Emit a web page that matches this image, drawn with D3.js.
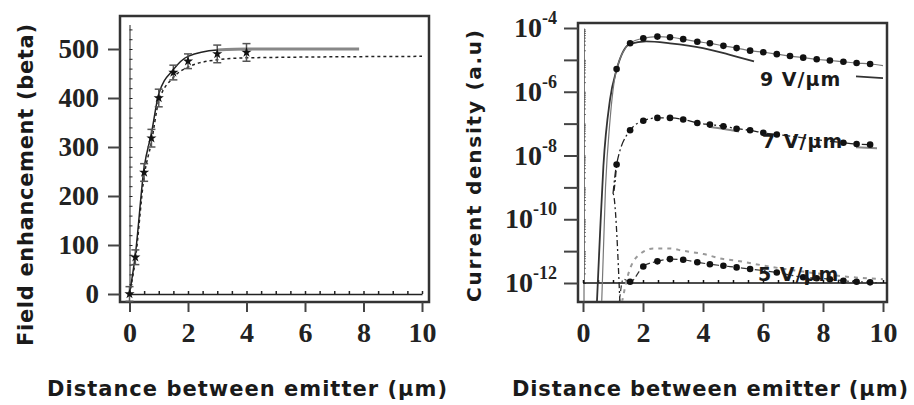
<!DOCTYPE html>
<html>
<head>
<meta charset="utf-8">
<script src="https://cdn.jsdelivr.net/npm/d3@7"></script>
<style>
  body { margin: 0; background: #fff; }
  .tick text { font-family: "Liberation Serif", "DejaVu Serif", serif; font-weight: bold; fill: #222; }
  .title { font-family: "DejaVu Sans", sans-serif; font-weight: bold; fill: #1a1a1a; }
</style>
</head>
<body>
<svg id="chart" width="914" height="405"></svg>
<script>
// ---- left panel data: field enhancement vs distance
const leftX = [0, 0.2, 0.5, 0.75, 1, 1.5, 2, 3, 4];
const meanY = [0, 75, 248, 318, 400, 452, 475, 490, 493];
const errY = [15, 15, 18, 18, 18, 15, 15, 18, 18];
const solidX = [0, 0.2, 0.5, 0.75, 1, 1.5, 2, 3, 4, 7.85];
const solidY = [0, 80, 258, 328, 408, 458, 485, 498, 500, 500];
const dottedX = [0, 0.2, 0.5, 0.75, 1, 1.5, 2, 3, 4, 10];
const dottedY = [0, 70, 240, 310, 393, 442, 463, 478, 482, 485];

// ---- right panel data: current density (log10 values)
const dotX = [1.12, 1.57, 2.01, 2.48, 2.9, 3.34, 3.81, 4.23, 4.68, 5.12, 5.57, 6.01, 6.46, 6.9, 7.34, 7.79, 8.23, 8.68, 9.12, 9.57];
const dots9 = [-5.29, -4.48, -4.32, -4.27, -4.29, -4.35, -4.43, -4.48, -4.56, -4.63, -4.71, -4.76, -4.82, -4.88, -4.93, -4.98, -5.02, -5.06, -5.10, -5.13];
const dots7 = [-8.28, -7.21, -6.91, -6.82, -6.82, -6.87, -6.98, -7.03, -7.08, -7.16, -7.21, -7.29, -7.34, null, null, null, null, -7.60, -7.64, -7.66];
const dots5 = [null, -11.96, -11.48, -11.32, -11.25, -11.27, -11.35, -11.41, -11.46, -11.51, -11.56, null, -11.67, null, -11.82, -11.85, -11.88, -11.93, -11.96, -11.98];

const line9dotX = [0.62, 0.75, 0.9, 1.12, 1.57, 2.01, 2.48, 2.9, 3.34, 3.81, 4.23, 4.68, 5.12, 5.57, 6.01, 6.46, 6.9, 7.34, 7.79, 8.23, 8.68, 9.12, 9.57, 10];
const line9dotY = [-12.7, -9.0, -6.9, -5.29, -4.48, -4.32, -4.27, -4.29, -4.35, -4.43, -4.48, -4.56, -4.63, -4.71, -4.76, -4.82, -4.88, -4.93, -4.98, -5.02, -5.06, -5.10, -5.13, -5.18];
const fit9X = [0.46, 0.57, 0.68, 0.9, 1.12, 1.57, 2.1, 2.9, 4.0, 4.9, 5.7, null, 9.1, 10];
const fit9Y = [-12.7, -10.4, -8.33, -6.25, -5.31, -4.50, -4.42, -4.48, -4.63, -4.84, -5.05, null, -5.52, -5.57];
const line7X = [1.23, 1.0, 1.12, 1.57, 2.01, 2.48, 2.9, 3.34, 3.81, 4.23, 4.68, 5.12, 5.57, 6.01, 6.46, 8.68, 9.12, 9.57];
const line7Y = [-12.6, -9.2, -8.28, -7.21, -6.91, -6.82, -6.82, -6.87, -6.98, -7.03, -7.08, -7.16, -7.21, -7.29, -7.34, -7.60, -7.64, -7.66];
const fit7X = [4.2, 4.7, 5.2, null, 9.1, 9.8];
const fit7Y = [-7.1, -7.17, -7.25, null, -7.74, -7.77];
const line5X = [1.2, 1.34, 1.57, 2.01, 2.48, 2.9, 3.34, 3.81, 4.23, 4.68, 5.12, 5.57, 6.46, 7.34, 7.79, 8.23, 8.68, 9.12, 9.57, 10];
const line5Y = [-12.7, -11.88, -11.96, -11.48, -11.32, -11.25, -11.27, -11.35, -11.41, -11.46, -11.51, -11.56, -11.67, -11.82, -11.85, -11.88, -11.93, -11.96, -11.98, -12.0];
const fit5X = [1.3, 1.51, 1.9, 2.34, 2.9, 3.34, 4.01, 4.68, 5.12, 6.0, 7.0, 8.0, 9.0, 10];
const fit5Y = [-12.6, -11.72, -11.09, -10.92, -10.92, -10.99, -11.09, -11.25, -11.30, -11.45, -11.6, -11.72, -11.82, -11.88];

const leftYTicks = [0, 100, 200, 300, 400, 500];
const xTicks = [0, 2, 4, 6, 8, 10];
const decades = [-4, -5, -6, -7, -8, -9, -10, -11, -12];
const decadeLabels = [-4, -6, -8, -10, -12];
const seriesLabels = ["9 V/\u03bcm", "7 V/\u03bcm", "5 V/\u03bcm"];
const labelPos = [[760, -5.82], [762, -7.75], [758, -11.95]];

const svg = d3.select("#chart");
const ink = "#222";

// ================= left panel =================
const xL = d3.scaleLinear().domain([0, 10]).range([129.5, 422]);
const yL = d3.scaleLinear().domain([0, 550]).range([294, 24.5]);

svg.append("rect").attr("x", 120).attr("y", 16).attr("width", 309).attr("height", 286)
  .attr("fill", "none").attr("stroke", "#333").attr("stroke-width", 2.5);

svg.append("g").attr("transform", "translate(120,0)")
  .call(d3.axisLeft(yL).tickValues(leftYTicks).tickSize(12).tickPadding(9).tickSizeOuter(0))
  .call(g => g.select(".domain").remove())
  .call(g => g.selectAll(".tick line").attr("stroke", "#444").attr("stroke-width", 2))
  .call(g => g.selectAll(".tick text").attr("font-size", 27));

svg.append("g").attr("transform", "translate(0,302)")
  .call(d3.axisBottom(xL).tickValues(xTicks).tickSize(10).tickPadding(10).tickSizeOuter(0))
  .call(g => g.select(".domain").remove())
  .call(g => g.selectAll(".tick line").attr("stroke", "#444").attr("stroke-width", 2))
  .call(g => g.selectAll(".tick text").attr("font-size", 28));

// inner axes with minor ticks
svg.append("g").attr("transform", "translate(129.5,0)")
  .call(d3.axisRight(yL).tickValues(d3.range(0, 541, 20)).tickSize(3).tickFormat("").tickSizeOuter(0))
  .call(g => g.selectAll("line, path").attr("stroke", ink).attr("stroke-width", 1));
svg.append("g").attr("transform", "translate(0,294)")
  .call(d3.axisTop(xL).tickValues(d3.range(0, 10.01, 0.5)).tickSize(3).tickFormat("").tickSizeOuter(0))
  .call(g => g.selectAll("line, path").attr("stroke", ink).attr("stroke-width", 1.5));

const lineL = d3.line().x(d => xL(d[0])).y(d => yL(d[1])).curve(d3.curveMonotoneX);
svg.append("path").datum(d3.zip(solidX.slice(0, 9), solidY.slice(0, 9)))
  .attr("d", lineL).attr("fill", "none").attr("stroke", ink).attr("stroke-width", 1.5);
svg.append("path").datum(d3.zip(solidX.slice(7), solidY.slice(7)))
  .attr("d", lineL).attr("fill", "none").attr("stroke", "#888").attr("stroke-width", 3);
svg.append("path").datum(d3.zip(dottedX, dottedY))
  .attr("d", lineL).attr("fill", "none").attr("stroke", ink).attr("stroke-width", 1.5)
  .attr("stroke-dasharray", "3,3");

const eb = svg.append("g").attr("stroke", "#555").attr("stroke-width", 1.5);
leftX.forEach((x, i) => {
  const cx = xL(x), y0 = yL(meanY[i] - errY[i]), y1 = yL(meanY[i] + errY[i]);
  eb.append("line").attr("x1", cx).attr("x2", cx).attr("y1", y0).attr("y2", y1);
  eb.append("line").attr("x1", cx - 4).attr("x2", cx + 4).attr("y1", y0).attr("y2", y0);
  eb.append("line").attr("x1", cx - 4).attr("x2", cx + 4).attr("y1", y1).attr("y2", y1);
});
svg.append("g").selectAll("path").data(d3.zip(leftX, meanY)).join("path")
  .attr("transform", d => `translate(${xL(d[0])},${yL(d[1])})`)
  .attr("d", d3.symbol(d3.symbolStar, 32)).attr("fill", "#111");

svg.append("text").attr("class", "title").attr("transform", "translate(33,185) rotate(-90)")
  .attr("text-anchor", "middle").attr("font-size", 21).attr("textLength", 322)
  .text("Field enhancement (beta)");
svg.append("text").attr("class", "title").attr("x", 247).attr("y", 396)
  .attr("text-anchor", "middle").attr("font-size", 21).attr("textLength", 400)
  .text("Distance between emitter (\u03bcm)");

// ================= right panel =================
const xR = d3.scaleLinear().domain([0, 10]).range([583, 883]);
const yR = d3.scaleLinear().domain([-4, -12]).range([28, 283]);

svg.append("defs").append("clipPath").attr("id", "clipR")
  .append("rect").attr("x", 579).attr("y", 24).attr("width", 307).attr("height", 277);

svg.append("rect").attr("x", 578).attr("y", 23).attr("width", 309).attr("height", 279)
  .attr("fill", "none").attr("stroke", "#333").attr("stroke-width", 2.5);

svg.append("g").attr("transform", "translate(578,0)")
  .call(d3.axisLeft(yR).tickValues(decades).tickSize(14).tickFormat("").tickSizeOuter(0))
  .call(g => g.select(".domain").remove())
  .call(g => g.selectAll(".tick line").attr("stroke", "#444").attr("stroke-width", 2));

const yLab = svg.append("g").attr("font-family", "Liberation Serif, DejaVu Serif, serif")
  .attr("font-weight", "bold").attr("fill", ink);
decadeLabels.forEach(p => {
  const t = yLab.append("text").attr("x", 557).attr("y", yR(p) + 9).attr("text-anchor", "end");
  t.append("tspan").attr("font-size", 28).text("10");
  t.append("tspan").attr("font-size", 18).attr("dy", -13).text(p);
});

svg.append("g").attr("transform", "translate(0,302)")
  .call(d3.axisBottom(xR).tickValues(xTicks).tickSize(10).tickPadding(10).tickSizeOuter(0))
  .call(g => g.select(".domain").remove())
  .call(g => g.selectAll(".tick line").attr("stroke", "#444").attr("stroke-width", 2))
  .call(g => g.selectAll(".tick text").attr("font-size", 28));

// inner axes: log minor ticks + baseline at 1e-12
const minor = [];
decades.slice(1).forEach(d => { for (let k = 1; k < 10; k++) minor.push(d + Math.log10(k)); });
svg.append("g").attr("transform", "translate(584,0)")
  .call(d3.axisRight(yR).tickValues(minor).tickSize(2).tickFormat("").tickSizeOuter(0))
  .call(g => g.selectAll("line, path").attr("stroke", "#555").attr("stroke-width", 0.8));
svg.append("line").attr("x1", 584).attr("x2", 584).attr("y1", yR(-12)).attr("y2", 302)
  .attr("stroke", "#555");
svg.append("g").attr("transform", `translate(0,${yR(-12)})`)
  .call(d3.axisTop(xR).tickValues(d3.range(0, 10.01, 0.5)).tickSize(3).tickFormat("").tickSizeOuter(0))
  .call(g => g.select(".domain").attr("d", `M583,0H887`))
  .call(g => g.selectAll("line, path").attr("stroke", "#111").attr("stroke-width", 1.5));

const lineR = d3.line().defined(d => d[0] != null && d[1] != null)
  .x(d => xR(d[0])).y(d => yR(d[1])).curve(d3.curveMonotoneX);
const plot = svg.append("g").attr("clip-path", "url(#clipR)").attr("fill", "none");

plot.append("path").datum(d3.zip(fit9X, fit9Y)).attr("d", lineR)
  .attr("stroke", "#333").attr("stroke-width", 1.8);
plot.append("path").datum(d3.zip(line9dotX, line9dotY)).attr("d", lineR)
  .attr("stroke", "#777").attr("stroke-width", 1.2);
plot.append("path").datum(d3.zip(line7X.slice(1), line7Y.slice(1))).attr("d", lineR)
  .attr("stroke", "#222").attr("stroke-width", 1.3).attr("stroke-dasharray", "8,3,2,3");
plot.append("path").datum(d3.zip(line7X.slice(0, 3), line7Y.slice(0, 3)))
  .attr("d", lineR).attr("stroke", "#222").attr("stroke-width", 1.3).attr("stroke-dasharray", "6,3,2,3");
plot.append("path").datum(d3.zip(fit7X, fit7Y)).attr("d", lineR)
  .attr("stroke", "#888").attr("stroke-width", 2);
plot.append("path").datum(d3.zip(line5X, line5Y)).attr("d", lineR)
  .attr("stroke", "#333").attr("stroke-width", 1.2).attr("stroke-dasharray", "6,3,2,3");
plot.append("path").datum(d3.zip(fit5X, fit5Y)).attr("d", lineR)
  .attr("stroke", "#999").attr("stroke-width", 2).attr("stroke-dasharray", "4,5");

[dots9, dots7, dots5].forEach(s => {
  plot.append("g").selectAll("circle")
    .data(d3.zip(dotX, s).filter(d => d[1] != null)).join("circle")
    .attr("cx", d => xR(d[0])).attr("cy", d => yR(d[1])).attr("r", 3.3).attr("fill", "#111");
});

svg.append("g").selectAll("text").data(seriesLabels).join("text")
  .attr("class", "title").attr("font-size", 19).attr("letter-spacing", 1)
  .attr("x", (d, i) => labelPos[i][0]).attr("y", (d, i) => yR(labelPos[i][1]))
  .text(d => d);

svg.append("text").attr("class", "title").attr("transform", "translate(481,166) rotate(-90)")
  .attr("text-anchor", "middle").attr("font-size", 20).attr("textLength", 272)
  .text("Current density (a.u)");
svg.append("text").attr("class", "title").attr("x", 710).attr("y", 396)
  .attr("text-anchor", "middle").attr("font-size", 21).attr("textLength", 396)
  .text("Distance between emitter (\u03bcm)");
</script>
</body>
</html>
